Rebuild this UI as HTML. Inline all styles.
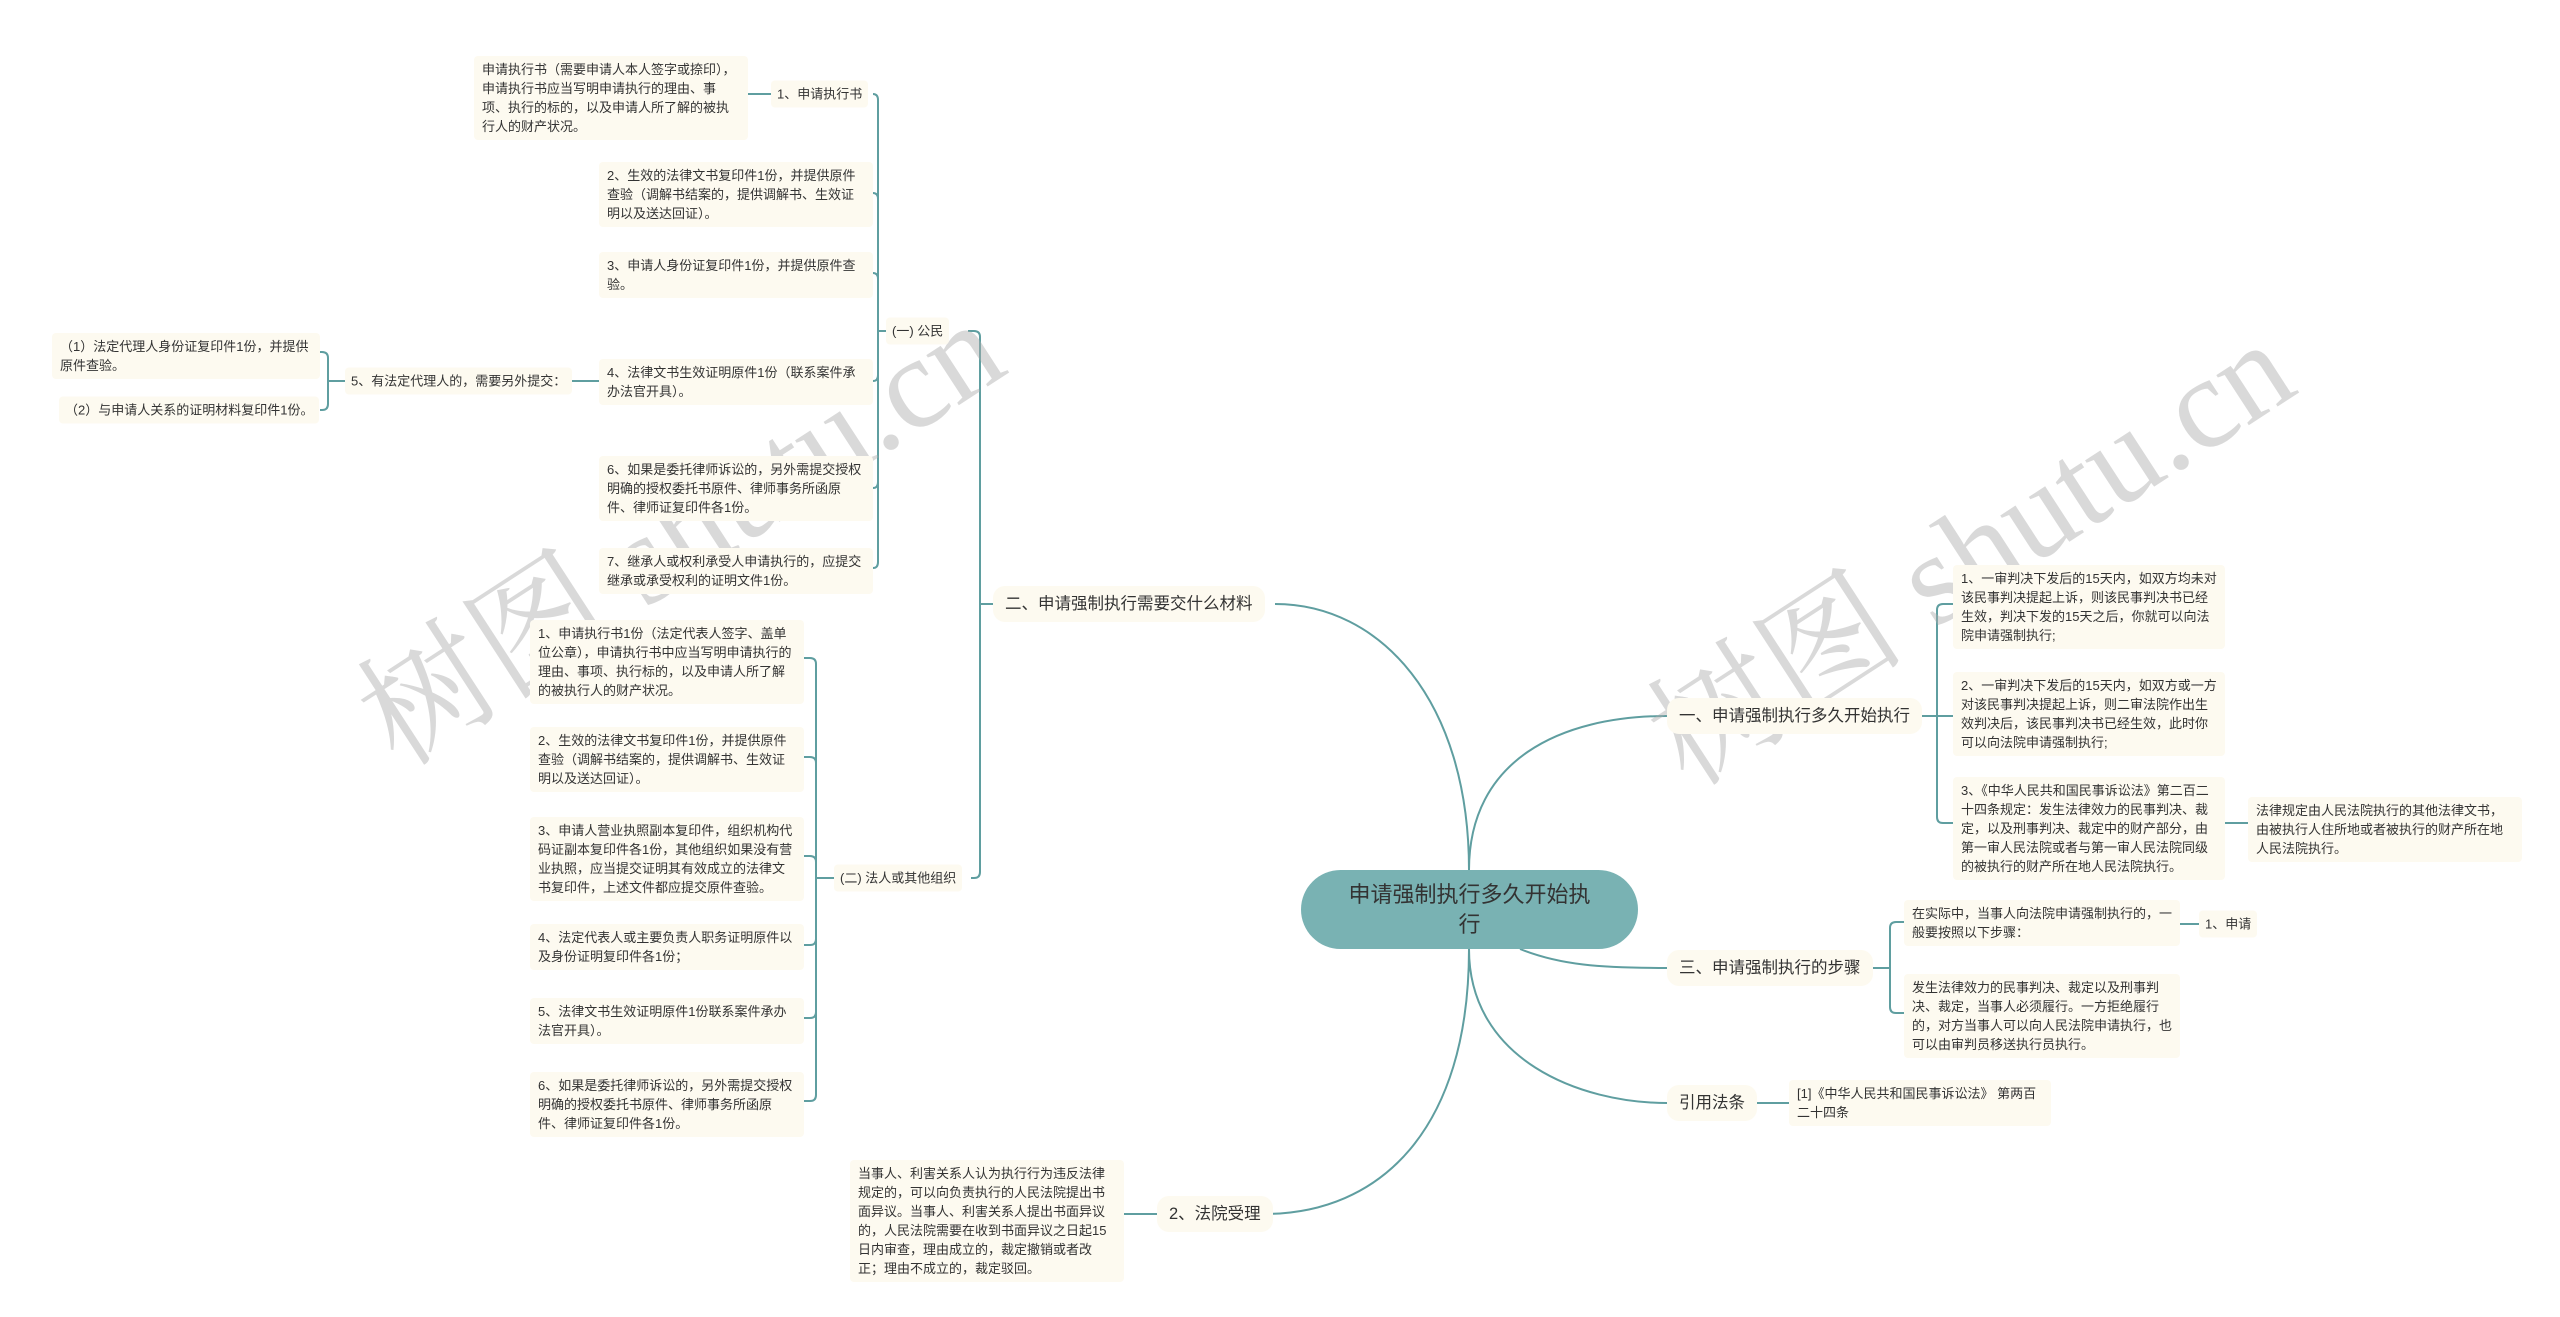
<!DOCTYPE html>
<html><head><meta charset="utf-8">
<style>
body{margin:0;width:2560px;height:1317px;background:#fff;position:relative;overflow:hidden;font-family:"Liberation Sans","Noto Sans CJK SC",sans-serif;}
.b{position:absolute;background:#fdfaf0;color:#333;font-size:13px;line-height:19px;padding:4px 8px;box-sizing:border-box;border-radius:4px;}
.t{position:absolute;background:#fdfaf0;color:#333;font-size:16.5px;line-height:24px;padding:6px 12px;border-radius:12px;white-space:nowrap;transform:translateY(-50%);}
.s{position:absolute;background:#fdfaf0;color:#333;font-size:13px;line-height:19px;padding:4px 6px;border-radius:4px;white-space:nowrap;transform:translateY(-50%);}
.c{position:absolute;left:1301px;top:870px;width:337px;height:79px;background:#79b2b3;border-radius:40px;color:#333;font-size:22px;line-height:30px;text-align:center;padding-top:10px;box-sizing:border-box;}
.wm{position:absolute;font-family:"Liberation Serif","Noto Serif CJK SC",serif;font-size:130px;color:rgba(170,170,170,0.45);white-space:nowrap;transform:rotate(-33deg);transform-origin:center;}
svg{position:absolute;left:0;top:0;}
</style></head><body>
<svg width="2560" height="1317" fill="none" stroke="#5f9ea0" stroke-width="2">
<path d="M1469,870 C1469,700 1380,604 1275,604"/>
<path d="M1469,870 C1469,760 1560,716 1667,716"/>
<path d="M1520,949 C1560,965 1600,968 1667,968"/>
<path d="M1469,949 C1469,1060 1580,1103 1667,1103"/>
<path d="M1469,949 C1469,1130 1380,1214 1264,1214"/>
<path d="M1917,716 H1937 M1937,716 V610 Q1937,604 1943,604 H1953 M1937,716 H1953 M1937,716 V817 Q1937,823 1943,823 H1953 M2224,823 H2248"/>
<path d="M1871,968 H1890 M1890,968 V928 Q1890,922 1896,922 H1904 M1890,968 V1007 Q1890,1013 1896,1013 H1904 M2179,924 H2199"/>
<path d="M1756,1103 H1789"/>
<path d="M993,604 H980 M980,604 V337 Q980,331 974,331 H968 M980,604 V872 Q980,878 974,878 H971"/>
<path d="M886,331 H878 M878,331 V100 Q878,94 873,94 M878,331 V199 Q878,193 873,193 M878,331 V279 Q878,273 873,273 M878,331 V375 Q878,381 873,381 M878,331 V482 Q878,488 873,488 M878,331 V562 Q878,568 873,568"/>
<path d="M771,94 H747 M599,381 H566 M345,381 H328 M328,381 V358 Q328,352 322,352 H320 M328,381 V404 Q328,410 322,410 H320"/>
<path d="M834,878 H816 M816,878 V664 Q816,658 810,658 H804 M816,878 V763 Q816,757 810,757 H804 M816,878 V862 Q816,856 810,856 H804 M816,878 V939 Q816,945 810,945 H804 M816,878 V1012 Q816,1018 810,1018 H804 M816,878 V1095 Q816,1101 810,1101 H804"/>
<path d="M1157,1214 H1124"/>
</svg>
<div class="wm" style="left:310px;top:430px;">树图 shutu.cn</div>
<div class="wm" style="left:1600px;top:450px;">树图 shutu.cn</div>

<div class="c">申请强制执行多久开始执<br>行</div>

<div class="t" style="left:1667px;top:716px;">一、申请强制执行多久开始执行</div>
<div class="b" style="left:1953px;top:565px;width:272px;">1、一审判决下发后的15天内，如双方均未对该民事判决提起上诉，则该民事判决书已经生效，判决下发的15天之后，你就可以向法院申请强制执行;</div>
<div class="b" style="left:1953px;top:672px;width:272px;">2、一审判决下发后的15天内，如双方或一方对该民事判决提起上诉，则二审法院作出生效判决后，该民事判决书已经生效，此时你可以向法院申请强制执行;</div>
<div class="b" style="left:1953px;top:777px;width:272px;">3、《中华人民共和国民事诉讼法》第二百二十四条规定：发生法律效力的民事判决、裁定，以及刑事判决、裁定中的财产部分，由第一审人民法院或者与第一审人民法院同级的被执行的财产所在地人民法院执行。</div>
<div class="b" style="left:2248px;top:797px;width:274px;">法律规定由人民法院执行的其他法律文书，由被执行人住所地或者被执行的财产所在地人民法院执行。</div>

<div class="t" style="left:1667px;top:968px;">三、申请强制执行的步骤</div>
<div class="b" style="left:1904px;top:900px;width:276px;">在实际中，当事人向法院申请强制执行的，一般要按照以下步骤：</div>
<div class="s" style="left:2199px;top:924px;">1、申请</div>
<div class="b" style="left:1904px;top:974px;width:276px;">发生法律效力的民事判决、裁定以及刑事判决、裁定，当事人必须履行。一方拒绝履行的，对方当事人可以向人民法院申请执行，也可以由审判员移送执行员执行。</div>

<div class="t" style="left:1667px;top:1103px;">引用法条</div>
<div class="b" style="left:1789px;top:1080px;width:262px;">[1]《中华人民共和国民事诉讼法》 第两百二十四条</div>

<div class="t" style="left:993px;top:604px;">二、申请强制执行需要交什么材料</div>
<div class="s" style="left:886px;top:331px;">(一) 公民</div>
<div class="s" style="left:771px;top:94px;">1、申请执行书</div>
<div class="b" style="left:474px;top:56px;width:274px;">申请执行书（需要申请人本人签字或捺印），申请执行书应当写明申请执行的理由、事项、执行的标的，以及申请人所了解的被执行人的财产状况。</div>
<div class="b" style="left:599px;top:162px;width:274px;">2、生效的法律文书复印件1份，并提供原件查验（调解书结案的，提供调解书、生效证明以及送达回证）。</div>
<div class="b" style="left:599px;top:252px;width:274px;">3、申请人身份证复印件1份，并提供原件查验。</div>
<div class="b" style="left:599px;top:359px;width:274px;">4、法律文书生效证明原件1份（联系案件承办法官开具）。</div>
<div class="s" style="left:345px;top:381px;">5、有法定代理人的，需要另外提交：</div>
<div class="b" style="left:52px;top:333px;width:268px;">（1）法定代理人身份证复印件1份，并提供原件查验。</div>
<div class="s" style="left:59px;top:410px;">（2）与申请人关系的证明材料复印件1份。</div>
<div class="b" style="left:599px;top:456px;width:274px;">6、如果是委托律师诉讼的，另外需提交授权明确的授权委托书原件、律师事务所函原件、律师证复印件各1份。</div>
<div class="b" style="left:599px;top:548px;width:274px;">7、继承人或权利承受人申请执行的，应提交继承或承受权利的证明文件1份。</div>

<div class="s" style="left:834px;top:878px;">(二) 法人或其他组织</div>
<div class="b" style="left:530px;top:620px;width:274px;">1、申请执行书1份（法定代表人签字、盖单位公章），申请执行书中应当写明申请执行的理由、事项、执行标的，以及申请人所了解的被执行人的财产状况。</div>
<div class="b" style="left:530px;top:727px;width:274px;">2、生效的法律文书复印件1份，并提供原件查验（调解书结案的，提供调解书、生效证明以及送达回证）。</div>
<div class="b" style="left:530px;top:817px;width:274px;">3、申请人营业执照副本复印件，组织机构代码证副本复印件各1份，其他组织如果没有营业执照，应当提交证明其有效成立的法律文书复印件，上述文件都应提交原件查验。</div>
<div class="b" style="left:530px;top:924px;width:274px;">4、法定代表人或主要负责人职务证明原件以及身份证明复印件各1份；</div>
<div class="b" style="left:530px;top:998px;width:274px;">5、法律文书生效证明原件1份联系案件承办法官开具）。</div>
<div class="b" style="left:530px;top:1072px;width:274px;">6、如果是委托律师诉讼的，另外需提交授权明确的授权委托书原件、律师事务所函原件、律师证复印件各1份。</div>

<div class="t" style="left:1157px;top:1214px;">2、法院受理</div>
<div class="b" style="left:850px;top:1160px;width:274px;">当事人、利害关系人认为执行行为违反法律规定的，可以向负责执行的人民法院提出书面异议。当事人、利害关系人提出书面异议的，人民法院需要在收到书面异议之日起15日内审查，理由成立的，裁定撤销或者改正；理由不成立的，裁定驳回。</div>
</body></html>
